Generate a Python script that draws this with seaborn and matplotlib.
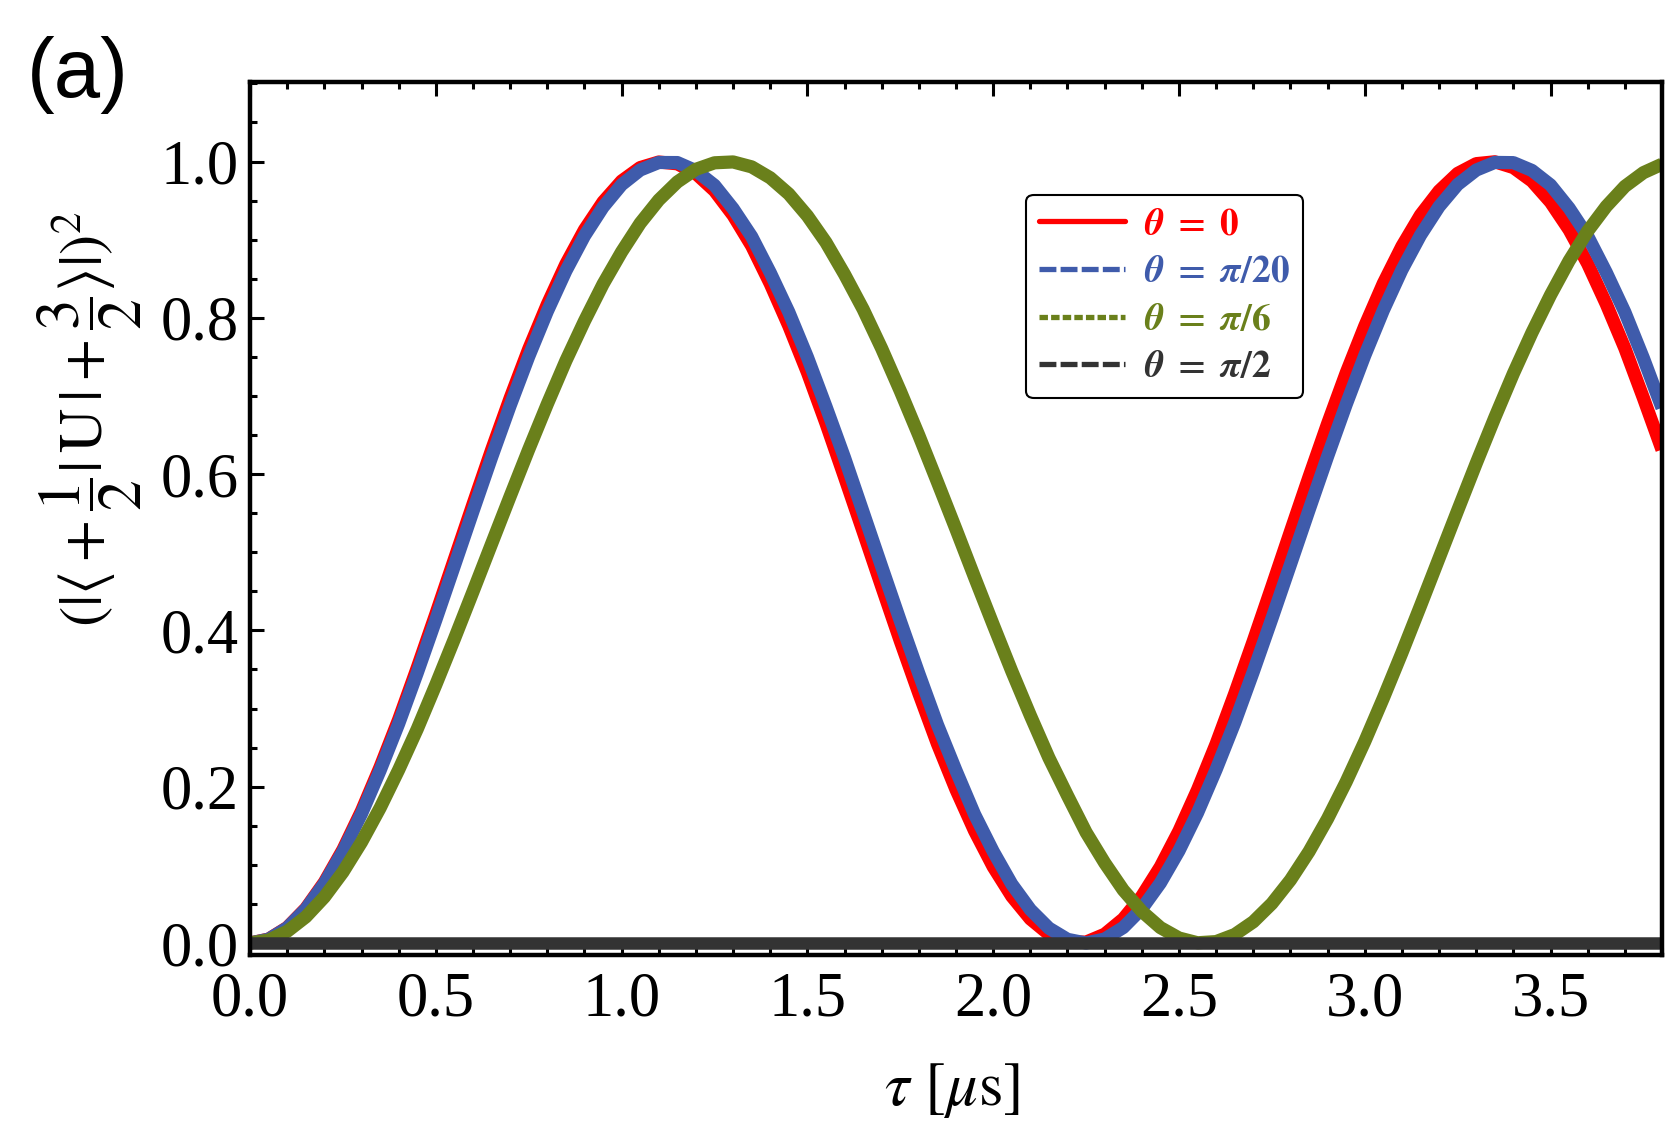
import numpy as np
import pandas as pd
import matplotlib
matplotlib.use('Agg')
import matplotlib.pyplot as plt
from matplotlib.lines import Line2D
import seaborn as sns

# tau grid in microseconds
tau = [0.00, 0.05, 0.10, 0.15, 0.20, 0.25, 0.30, 0.35, 0.40, 0.45,
       0.50, 0.55, 0.60, 0.65, 0.70, 0.75, 0.80, 0.85, 0.90, 0.95,
       1.00, 1.05, 1.10, 1.15, 1.20, 1.25, 1.30, 1.35, 1.40, 1.45,
       1.50, 1.55, 1.60, 1.65, 1.70, 1.75, 1.80, 1.85, 1.90, 1.95,
       2.00, 2.05, 2.10, 2.15, 2.20, 2.25, 2.30, 2.35, 2.40, 2.45,
       2.50, 2.55, 2.60, 2.65, 2.70, 2.75, 2.80, 2.85, 2.90, 2.95,
       3.00, 3.05, 3.10, 3.15, 3.20, 3.25, 3.30, 3.35, 3.40, 3.45,
       3.50, 3.55, 3.60, 3.65, 3.70, 3.75, 3.80]

p_theta0 = [0.0, 0.0050, 0.0198, 0.0442, 0.0777, 0.1195, 0.1690, 0.2252, 0.2860, 0.3522,
            0.4209, 0.4912, 0.5615, 0.6309, 0.6973, 0.7601, 0.8172, 0.8688, 0.9127, 0.9483,
            0.9751, 0.9923, 0.9994, 0.9971, 0.9846, 0.9627, 0.9313, 0.8921, 0.8436, 0.7896,
            0.7302, 0.6650, 0.5962, 0.5265, 0.4561, 0.3865, 0.3194, 0.2548, 0.1962, 0.1434,
            0.0976, 0.0598, 0.0308, 0.0112, 0.0012, 0.0012, 0.0112, 0.0308, 0.0598, 0.0976,
            0.1434, 0.1962, 0.2548, 0.3190, 0.3864, 0.4560, 0.5265, 0.5964, 0.6645, 0.7295,
            0.7894, 0.8441, 0.8915, 0.9315, 0.9623, 0.9848, 0.9973, 0.9997, 0.9923, 0.9750,
            0.9481, 0.9127, 0.8692, 0.8176, 0.7611, 0.6974, 0.6314]

p_pi20 = [0.0, 0.0049, 0.0194, 0.0433, 0.0761, 0.1171, 0.1655, 0.2208, 0.2806, 0.3457,
          0.4135, 0.4829, 0.5526, 0.6214, 0.6877, 0.7505, 0.8083, 0.8601, 0.9049, 0.9417,
          0.9704, 0.9892, 0.9988, 0.9987, 0.9883, 0.9696, 0.9398, 0.9040, 0.8578, 0.8073,
          0.7497, 0.6864, 0.6209, 0.5513, 0.4815, 0.4122, 0.3446, 0.2793, 0.2206, 0.1645,
          0.1172, 0.0753, 0.0427, 0.0190, 0.0047, 0.0000, 0.0051, 0.0198, 0.0438, 0.0768,
          0.1180, 0.1666, 0.2220, 0.2818, 0.3471, 0.4150, 0.4843, 0.5540, 0.6227, 0.6891,
          0.7518, 0.8096, 0.8614, 0.9057, 0.9424, 0.9706, 0.9891, 0.9989, 0.9986, 0.9886,
          0.9700, 0.9404, 0.9045, 0.8581, 0.8073, 0.7483, 0.6849]

p_pi6 = [0.0, 0.0037, 0.0149, 0.0334, 0.0588, 0.0908, 0.1291, 0.1728, 0.2216, 0.2738,
         0.3305, 0.3892, 0.4496, 0.5107, 0.5716, 0.6316, 0.6896, 0.7451, 0.7959, 0.8431,
         0.8844, 0.9211, 0.9508, 0.9739, 0.9901, 0.9984, 0.9995, 0.9932, 0.9792, 0.9585,
         0.9305, 0.8965, 0.8556, 0.8110, 0.7607, 0.7064, 0.6495, 0.5898, 0.5294, 0.4679,
         0.4074, 0.3479, 0.2912, 0.2369, 0.1886, 0.1416, 0.1026, 0.0678, 0.0405, 0.0197,
         0.0064, 0.0003, 0.0018, 0.0108, 0.0271, 0.0505, 0.0806, 0.1170, 0.1591, 0.2063,
         0.2578, 0.3133, 0.3713, 0.4314, 0.4924, 0.5534, 0.6138, 0.6724, 0.7287, 0.7810,
         0.8292, 0.8730, 0.9110, 0.9426, 0.9682, 0.9858, 0.9966]

p_pi2 = [0.0] * len(tau)

labels = [r'$\mathbfit{\theta}\ \mathbf{=\ 0}$',
          r'$\mathbfit{\theta}\ \mathbf{=}\ \mathbfit{\pi}\mathbf{/20}$',
          r'$\mathbfit{\theta}\ \mathbf{=}\ \mathbfit{\pi}\mathbf{/6}$',
          r'$\mathbfit{\theta}\ \mathbf{=}\ \mathbfit{\pi}\mathbf{/2}$']
colors = ['#ff0000', '#3f5bab', '#6a801b', '#333333']
series = [p_theta0, p_pi20, p_pi6, p_pi2]

sns.set_style('white')
plt.rcParams['font.family'] = ['Liberation Serif', 'DejaVu Serif']
plt.rcParams['mathtext.fontset'] = 'stix'
plt.rcParams['text.color'] = 'black'
plt.rcParams['xtick.color'] = 'black'
plt.rcParams['ytick.color'] = 'black'

fig = plt.figure(figsize=(16.67, 11.32), dpi=100)
ax = fig.add_axes([0.150, 0.1566, 0.847, 0.7711])

widths = [9.5, 9.5, 9.5, 9.0]
for vals, c, w in zip(series, colors, widths):
    sns.lineplot(x=tau, y=vals, color=c, lw=w, ax=ax,
                 solid_capstyle='butt', solid_joinstyle='round')

ax.set_xlim(0, 3.8)
ax.set_ylim(-0.015, 1.102)
ax.set_xticks(np.arange(0, 3.51, 0.5))
ax.set_xticks(np.arange(0, 3.81, 0.1), minor=True)
ax.set_yticks(np.arange(0, 1.01, 0.2))
ax.set_yticks(np.arange(0, 1.11, 0.05), minor=True)
ax.set_xticklabels(['0.0', '0.5', '1.0', '1.5', '2.0', '2.5', '3.0', '3.5'])
ax.set_yticklabels(['0.0', '0.2', '0.4', '0.6', '0.8', '1.0'])
ax.tick_params(which='both', direction='in', top=True, right=False, bottom=True, left=True,
               width=2.2, color='black', labelcolor='black', labelsize=45)
ax.tick_params(which='major', length=10)
ax.tick_params(which='minor', length=5)
ax.tick_params(axis='x', pad=12)
ax.tick_params(axis='y', pad=8)
for s in ax.spines.values():
    s.set_linewidth(3.2)
    s.set_color('black')

ax.set_xlabel('')
ax.set_ylabel('')
fig.text(0.571, 0.037, r'$\tau\ [\mu\mathrm{s}]$', fontsize=45, ha='center', va='center')
fig.text(0.054, 0.630,
         r'$(|\langle+\dfrac{1}{2}|\,\mathrm{U}\,|+\dfrac{3}{2}\rangle|)^2$',
         fontsize=44, rotation=90, ha='center', va='center')
fig.text(0.016, 0.934, '(a)', fontsize=60, family='Liberation Sans', ha='left', va='center')

dashes = [(None, None), (3.2, 0.8), (1.6, 0.6), (3.2, 0.8)]
handles = []
for c, d in zip(colors, dashes):
    h = Line2D([0], [0], color=c, lw=3.8)
    if d[0] is not None:
        h.set_dashes(d)
    handles.append(h)
leg = ax.legend(handles, labels, loc='upper left', bbox_to_anchor=(0.5496, 0.8706),
                borderaxespad=0, fontsize=27, handlelength=2.3, handletextpad=0.5,
                labelspacing=0.35, borderpad=0.35, frameon=True, fancybox=True,
                framealpha=1)
leg.get_frame().set_edgecolor('black')
leg.get_frame().set_linewidth(1.5)
for t, c in zip(leg.get_texts(), colors):
    t.set_color(c)

fig.savefig('out.png', dpi=100)
